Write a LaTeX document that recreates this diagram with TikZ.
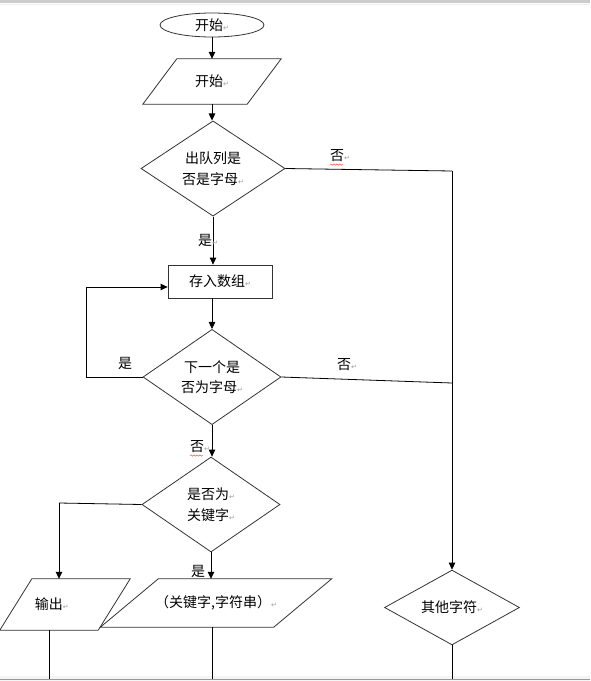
\documentclass[tikz,border=0pt]{standalone}
\usepackage{fontspec}
\setmainfont{Noto Sans CJK SC}
\newfontfamily\djv{DejaVu Sans}
\usetikzlibrary{shapes.geometric,arrows.meta,calc,decorations.pathmorphing}
\newcommand\retmark{{\color{black!40}\fontsize{7}{7}\selectfont\djv ↵}}
\begin{document}
\begin{tikzpicture}[x=1pt,y=-1pt,
  font=\fontsize{14}{20.5}\selectfont,
  shp/.style={draw=black!80, line width=0.8pt, inner sep=0pt, align=center},
  dia/.style={shp, diamond},
  pbox/.style={inner sep=0pt, align=center},
  pgram/.style={draw=black!80, line width=0.8pt},
  conn/.style={line width=0.8pt, black},
  arr/.style={conn, -{Triangle[length=7pt,width=6.5pt]}},
  lab/.style={inner sep=0pt, anchor=west},
  wavy/.style={red!70, line width=0.5pt, decorate, decoration={snake, amplitude=0.7pt, segment length=3pt}}]
\useasboundingbox (0,0) rectangle (590,681);
% window edges
\fill[black!20] (0,0) rectangle (590,2.5);
\draw[black!7] (0,4.5) -- (590,4.5);
\fill[blue!3!black!4] (0,676) rectangle (590,681);
\draw[black!40, line width=0.8pt] (0,679) -- (590,679);

% nodes
\node[shp, ellipse, minimum width=104, minimum height=24] (start) at (212,25) {开始\retmark};
\node[pbox, minimum width=104, minimum height=45] (in1) at (212,81.5) {开始\retmark};
\draw[pgram] ($(in1.south west)+(-17,0)$) -- ($(in1.north west)+(17,0)$) -- ($(in1.north east)+(17,0)$) -- ($(in1.south east)+(-17,0)$) -- cycle;
\node[dia, minimum width=144, minimum height=95] (d1) at (213,168.5) {出队列是\\否是字母\retmark};
\node[shp, rectangle, minimum width=104, minimum height=33] (store) at (220,281.5) {存入数组\retmark};
\node[dia, minimum width=138, minimum height=90] (d2) at (212,377) {下一个是\\否为字母\retmark};
\node[dia, minimum width=138, minimum height=95] (d3) at (211,504.5) {是否为\retmark\\关键字\retmark};
\node[pbox, text width=98pt, align=left, minimum height=51] (out) at (65,604.5) {\hspace*{19pt}输出\retmark};
\draw[pgram] ($(out.south west)+(-16,0)$) -- ($(out.north west)+(16,0)$) -- ($(out.north east)+(16,0)$) -- ($(out.south east)+(-16,0)$) -- cycle;
\node[pbox, minimum width=173, minimum height=48] (kw) at (216,603) {（关键字,字符串）\retmark};
\draw[pgram] ($(kw.south west)+(-29,0)$) -- ($(kw.north west)+(29,0)$) -- ($(kw.north east)+(29,0)$) -- ($(kw.south east)+(-29,0)$) -- cycle;
\node[dia, minimum width=135, minimum height=55] (other) at (452,607.5) {其他字符\retmark};

% helper coordinates
\coordinate (r1) at (452,171);
\coordinate (r2) at (452,383);
\coordinate (l1) at (86,287);
\coordinate (l2) at (59,503);
\coordinate (b1) at (49,679);
\coordinate (b2) at (212,679);
\coordinate (b3) at (452,679);

% connectors
\draw[arr] (start.south) -- (in1.north);
\draw[arr] (in1.south) -- (in1.south |- d1.north);
\draw[arr] (d1.south) -- (d1.south |- store.north);
\draw[conn] (d1.east) -- (r1);
\draw[arr] (r1) -- (r1 |- other.north);
\draw[arr] (store.south -| d2.north) -- (d2.north);
\draw[arr] (d2.west) -- (d2.west -| l1) -- (l1) -- (l1 -| store.west);
\draw[conn] (d2.east) -- (r2);
\draw[arr] (d2.south) -- (d2.south |- d3.north);
\draw[conn] (d3.west) -- (l2);
\draw[arr] (l2) -- (l2 |- out.north);
\draw[arr] (d3.south) -- (d3.south |- kw.north);
\draw[conn] (b1 |- out.south) -- (b1);
\draw[conn] (b2 |- kw.south) -- (b2);
\draw[conn] (other.south) -- (other.south |- b3);

% labels
\node[lab] (no1) at (330,156) {否\retmark};
\node[lab] (yes1) at (198,240) {是\retmark};
\node[lab] (yes2) at (118,363) {是};
\node[lab] (no2) at (337,365) {否\retmark};
\node[lab] (no3) at (190,447) {否\retmark};
\node[lab] (yes3) at (191,571) {是};
\draw[wavy] ($(no1.west)+(0,8.5)$) -- ($(no1.west)+(13,8.5)$);
\draw[wavy] ($(no3.west)+(0,8.5)$) -- ($(no3.west)+(13,8.5)$);
\end{tikzpicture}
\end{document}
